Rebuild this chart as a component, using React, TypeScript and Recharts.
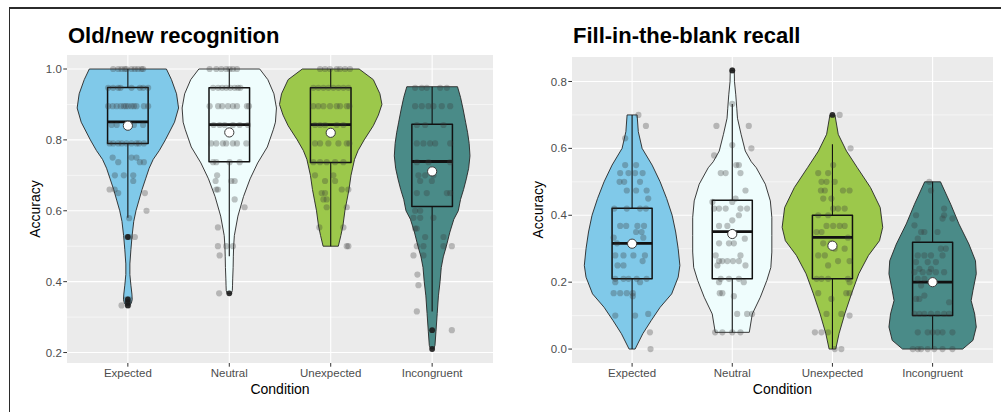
import React from 'react';
import { ComposedChart, Scatter, XAxis, YAxis, CartesianGrid } from 'recharts';

type Level = [number, number];
type Group = [number, number[]];

const conditions = ['Expected', 'Neutral', 'Unexpected', 'Incongruent'];
const fills = ['#80C9E9', '#EFFDFD', '#9CC84B', '#4A8B88'];

// violin outlines: [accuracy, half width in category units], top to bottom
const recogExpectedViolin: Level[] = [
  [1.0, 0.38], [0.97, 0.43], [0.93, 0.48], [0.89, 0.5], [0.85, 0.46], [0.8, 0.37], [0.77, 0.31],
  [0.745, 0.25], [0.72, 0.21], [0.69, 0.175], [0.66, 0.14], [0.63, 0.11], [0.6, 0.08], [0.57, 0.058],
  [0.53, 0.042], [0.49, 0.03], [0.45, 0.02], [0.42, 0.02], [0.39, 0.03], [0.365, 0.04], [0.35, 0.043],
  [0.34, 0.035], [0.333, 0.018],
];
const recogNeutralViolin: Level[] = [
  [1.0, 0.3], [0.97, 0.38], [0.93, 0.44], [0.89, 0.465], [0.85, 0.455], [0.83, 0.435], [0.78, 0.375],
  [0.735, 0.28], [0.69, 0.205], [0.64, 0.14], [0.585, 0.085], [0.53, 0.05], [0.5, 0.043], [0.47, 0.04],
  [0.44, 0.038], [0.41, 0.034], [0.39, 0.032], [0.375, 0.03], [0.367, 0.02],
];
const recogUnexpectedViolin: Level[] = [
  [1.0, 0.28], [0.97, 0.42], [0.93, 0.485], [0.9, 0.505], [0.87, 0.47], [0.84, 0.42], [0.8, 0.33],
  [0.77, 0.27], [0.745, 0.235], [0.7, 0.2], [0.66, 0.18], [0.63, 0.16], [0.6, 0.14], [0.557, 0.12],
  [0.53, 0.1], [0.5, 0.075],
];
const recogIncongruentViolin: Level[] = [
  [0.95, 0.25], [0.92, 0.28], [0.887, 0.305], [0.85, 0.33], [0.82, 0.35], [0.79, 0.365], [0.755, 0.373],
  [0.72, 0.36], [0.69, 0.337], [0.66, 0.31], [0.632, 0.28], [0.6, 0.258], [0.576, 0.214], [0.54, 0.175],
  [0.5, 0.14], [0.47, 0.11], [0.44, 0.09], [0.4, 0.078], [0.36, 0.062], [0.31, 0.05], [0.26, 0.038],
  [0.22, 0.028], [0.21, 0.015],
];

const recallExpectedViolin: Level[] = [
  [0.7, 0.05], [0.65, 0.062], [0.6, 0.1], [0.55, 0.2], [0.5, 0.28], [0.45, 0.345], [0.4, 0.4],
  [0.35, 0.435], [0.3, 0.46], [0.25, 0.477], [0.215, 0.46], [0.165, 0.395], [0.125, 0.28],
  [0.085, 0.19], [0.046, 0.107], [0.0, 0.03],
];
const recallNeutralViolin: Level[] = [
  [0.833, 0.02], [0.8, 0.022], [0.76, 0.035], [0.72, 0.045], [0.69, 0.052], [0.642, 0.088],
  [0.592, 0.13], [0.56, 0.19], [0.542, 0.24], [0.493, 0.33], [0.443, 0.38], [0.394, 0.395],
  [0.34, 0.395], [0.29, 0.395], [0.244, 0.385], [0.205, 0.345], [0.155, 0.28], [0.105, 0.2],
  [0.05, 0.17],
];
const recallUnexpectedViolin: Level[] = [
  [0.7, 0.025], [0.642, 0.058], [0.592, 0.14], [0.543, 0.247], [0.483, 0.38], [0.423, 0.477],
  [0.364, 0.502], [0.324, 0.47], [0.28, 0.36], [0.225, 0.263], [0.165, 0.19], [0.105, 0.123],
  [0.046, 0.066], [0.0, 0.033],
];
const recallIncongruentViolin: Level[] = [
  [0.5, 0.079], [0.433, 0.181], [0.374, 0.263], [0.314, 0.362], [0.264, 0.428], [0.225, 0.436],
  [0.175, 0.403], [0.145, 0.385], [0.105, 0.42], [0.066, 0.436], [0.026, 0.403], [0.0, 0.3],
];

// box plot stats, one value per condition
const recogQ1 = [0.79, 0.738, 0.736, 0.612];
const recogMedian = [0.851, 0.843, 0.843, 0.739];
const recogQ3 = [0.948, 0.947, 0.947, 0.844];
const recogLow = [0.58, 0.472, 0.5, 0.316];
const recogHigh = [1.0, 1.0, 1.0, 0.95];
const recogMean = [0.84, 0.821, 0.82, 0.711];
const recogOutliers = [[0.526, 0.35, 0.342, 0.333], [0.367], [], [0.263, 0.21]];

const recallQ1 = [0.21, 0.21, 0.21, 0.1];
const recallMedian = [0.316, 0.351, 0.334, 0.2];
const recallQ3 = [0.421, 0.445, 0.4, 0.319];
const recallLow = [0.0, 0.05, 0.0, 0.0];
const recallHigh = [0.7, 0.733, 0.612, 0.5];
const recallMean = [0.315, 0.344, 0.309, 0.2];
const recallOutliers = [[], [0.833], [0.7], []];

// jittered participants: [accuracy, horizontal offsets]
const recogExpectedPts: Group[] = [
  [1.0, [-0.145, -0.095, -0.062, -0.03, -0.013, 0.036, 0.069, 0.1, 0.135, 0.151]],
  [0.947, [-0.194, -0.145, -0.095, -0.072, 0.036, 0.118, 0.151, 0.2]],
  [0.895, [-0.194, -0.15, -0.11, -0.07, -0.04, -0.02, 0.003, 0.036, 0.06, 0.085, 0.158, 0.2]],
  [0.842, [-0.16, -0.11, 0.02, 0.06, 0.15]],
  [0.79, [-0.18, -0.145, -0.095, -0.06, -0.013, 0.036, 0.085, 0.11, 0.158]],
  [0.75, [-0.15, 0.036, 0.085]],
  [0.737, [-0.095, 0.118, 0.158]],
  [0.7, [-0.128, -0.04, 0.053]],
  [0.684, [0.053]],
  [0.66, [-0.18, -0.13]],
  [0.65, [-0.095, 0.168]],
  [0.6, [0.184]],
  [0.579, [0.013]],
  [0.526, [-0.007, 0.02, 0.069]],
  [0.35, [-0.013, 0.013]],
  [0.333, [-0.062, 0.003]],
];
const recogNeutralPts: Group[] = [
  [1.0, [-0.194, -0.128, -0.079, -0.03, 0.003, 0.036, 0.076]],
  [0.947, [-0.16, -0.11, -0.07, -0.03, 0.01, 0.053, 0.086, 0.109]],
  [0.895, [-0.194, -0.11, -0.07, -0.013, 0.036, 0.076, 0.174, 0.194]],
  [0.842, [-0.155, -0.095, -0.046, 0.036, 0.102, 0.184]],
  [0.79, [-0.178, -0.128, -0.063, -0.03, 0.036, 0.076, 0.168]],
  [0.737, [-0.16, -0.128, 0.003, 0.102]],
  [0.7, [-0.12]],
  [0.684, [-0.135, 0.02, 0.053]],
  [0.66, [-0.128, -0.112]],
  [0.632, [0.053]],
  [0.61, [0.151]],
  [0.553, [-0.112]],
  [0.5, [-0.112, -0.03, 0.036]],
  [0.474, [-0.095]],
  [0.367, [-0.1]],
];
const recogUnexpectedPts: Group[] = [
  [1.0, [-0.105, -0.056, -0.007, 0.059, 0.092, 0.141, 0.19]],
  [0.947, [-0.171, -0.122, -0.072, -0.023, 0.026, 0.076, 0.125, 0.174]],
  [0.895, [-0.171, -0.122, -0.072, -0.007, 0.059, 0.092, 0.158, 0.184]],
  [0.842, [-0.155, -0.105, -0.056, 0.059, 0.125]],
  [0.79, [-0.155, -0.105, -0.023, 0.076, 0.158, 0.184]],
  [0.737, [-0.171, -0.105, -0.04, 0.043, 0.125]],
  [0.7, [-0.155, 0.026]],
  [0.684, [-0.056, 0.043]],
  [0.66, [0.109, 0.174]],
  [0.65, [-0.089, -0.056]],
  [0.632, [-0.072, -0.04]],
  [0.61, [-0.04, 0.158]],
  [0.553, [-0.112, 0.125]],
  [0.5, [0.158, 0.174]],
];
const recogIncongruentPts: Group[] = [
  [0.947, [-0.168, -0.102, -0.053, 0.079, 0.145]],
  [0.895, [-0.168, -0.102, -0.036, 0.013, 0.095, 0.178]],
  [0.842, [-0.151, -0.069, 0.112]],
  [0.79, [-0.151, -0.086, -0.02, 0.03, 0.178]],
  [0.737, [-0.151, -0.036, 0.178]],
  [0.7, [-0.135, -0.069, 0.013]],
  [0.684, [-0.118, -0.003]],
  [0.65, [-0.151, -0.053, 0.145, 0.178]],
  [0.6, [-0.168, -0.118]],
  [0.58, [-0.184, -0.118, 0.013]],
  [0.55, [-0.168, -0.151]],
  [0.526, [-0.069, 0.112]],
  [0.5, [-0.151, -0.086, 0.112, 0.194]],
  [0.474, [-0.184, -0.086]],
  [0.42, [-0.145]],
  [0.39, [-0.135]],
  [0.316, [-0.151]],
  [0.263, [0.194]],
];

const recallExpectedPts: Group[] = [
  [0.7, [0.063]],
  [0.667, [0.138]],
  [0.63, [-0.069]],
  [0.55, [-0.069, 0.04]],
  [0.526, [-0.119, -0.036, 0.03, 0.105]],
  [0.5, [-0.125, -0.079, 0.079]],
  [0.474, [-0.053, 0.04, 0.145]],
  [0.45, [0.161]],
  [0.42, [-0.178, -0.053, 0.079, 0.138]],
  [0.368, [-0.119, -0.059, 0.053, 0.119]],
  [0.35, [0.04, 0.095]],
  [0.333, [-0.184, 0.112]],
  [0.316, [-0.151, -0.003]],
  [0.28, [-0.168, -0.086, 0.013, 0.128]],
  [0.263, [0.105]],
  [0.25, [-0.145, -0.086]],
  [0.21, [-0.168, -0.086, -0.036, 0.046, 0.145]],
  [0.2, [-0.168, 0.079]],
  [0.167, [-0.184, -0.119, -0.053, 0.007]],
  [0.158, [0.007]],
  [0.105, [0.161]],
  [0.1, [-0.168, 0.03]],
  [0.05, [0.178]],
  [0.0, [0.184]],
];
const recallNeutralPts: Group[] = [
  [0.833, [0.0]],
  [0.733, [0.0]],
  [0.667, [-0.158, 0.165]],
  [0.61, [0.0]],
  [0.6, [0.191]],
  [0.579, [-0.181]],
  [0.55, [0.04, 0.066]],
  [0.526, [-0.115, -0.066, 0.082]],
  [0.474, [0.132]],
  [0.45, [0.033]],
  [0.44, [-0.198, 0.0]],
  [0.42, [-0.181, -0.132, -0.066, 0.082, 0.148]],
  [0.4, [0.066]],
  [0.385, [0.0]],
  [0.368, [-0.132, -0.049]],
  [0.33, [0.125]],
  [0.316, [-0.132, -0.033, 0.016]],
  [0.28, [-0.165, 0.082]],
  [0.263, [-0.132, -0.099, -0.049, 0.007, 0.066]],
  [0.25, [-0.148, 0.132]],
  [0.21, [-0.115, -0.033, 0.066]],
  [0.2, [-0.132, 0.115]],
  [0.167, [-0.125, -0.099]],
  [0.158, [0.016]],
  [0.105, [0.049, 0.148, 0.198]],
  [0.05, [-0.171, -0.099, 0.0, 0.082]],
];
const recallUnexpectedPts: Group[] = [
  [0.7, [0.072]],
  [0.6, [0.181]],
  [0.55, [0.007]],
  [0.526, [-0.142, -0.043]],
  [0.5, [-0.109, -0.059, 0.023]],
  [0.474, [-0.115, -0.076, 0.105, 0.171]],
  [0.45, [-0.092, -0.01]],
  [0.42, [0.007, 0.056, 0.122]],
  [0.4, [-0.142, -0.043]],
  [0.368, [-0.059, 0.007, 0.072, 0.122]],
  [0.35, [-0.158, -0.109]],
  [0.333, [0.155]],
  [0.316, [-0.092, -0.016]],
  [0.3, [0.023, 0.122]],
  [0.28, [-0.142, -0.076]],
  [0.263, [0.056, 0.171]],
  [0.25, [-0.043]],
  [0.21, [-0.158, -0.109, -0.043, 0.155]],
  [0.2, [0.171]],
  [0.167, [-0.142, 0.138, 0.171]],
  [0.15, [-0.01]],
  [0.105, [-0.059, 0.089]],
  [0.1, [0.171]],
  [0.05, [-0.175, -0.109, -0.043]],
  [0.0, [0.023, 0.089]],
];
const recallIncongruentPts: Group[] = [
  [0.5, [-0.033]],
  [0.474, [-0.016]],
  [0.42, [0.115]],
  [0.4, [-0.165, 0.115]],
  [0.39, [0.099, 0.198]],
  [0.37, [-0.181]],
  [0.35, [-0.115, -0.082, 0.049]],
  [0.33, [-0.148]],
  [0.3, [0.082, 0.132]],
  [0.28, [-0.148, -0.082, -0.016, 0.099]],
  [0.26, [-0.165, -0.049, 0.033]],
  [0.24, [-0.132, -0.016]],
  [0.23, [-0.181, -0.099, -0.033, 0.033, 0.115]],
  [0.21, [-0.148, -0.082]],
  [0.19, [-0.115]],
  [0.16, [-0.082]],
  [0.15, [-0.165, -0.132]],
  [0.14, [0.165]],
  [0.105, [-0.181, -0.132, -0.082, -0.016, 0.049, 0.115, 0.165]],
  [0.05, [-0.148, -0.049, 0.0, 0.049, 0.099, 0.198]],
  [0.0, [-0.198, -0.148, -0.115, -0.049, 0.016, 0.099, 0.198]],
];

const recogTicks = [0.2, 0.4, 0.6, 0.8, 1.0];
const recogMinor = [0.3, 0.5, 0.7, 0.9];
const recallTicks = [0.0, 0.2, 0.4, 0.6, 0.8];
const recallMinor = [0.1, 0.3, 0.5, 0.7];

const BOX_HALF = 0.2;
const FONT = '"Liberation Sans", Arial, sans-serif';

const noShape = () => <g />;

const pathLine = (fill: string, stroke: string, width: number, closed: boolean) => (p: any) => {
  const pts: { x: number; y: number }[] = p.points || [];
  const d = pts.map((q, i) => `${i ? 'L' : 'M'}${q.x},${q.y}`).join(' ') + (closed ? ' Z' : '');
  return <path d={d} fill={fill} stroke={stroke} strokeWidth={width} strokeLinejoin="round" />;
};

function violinOutline(c: number, levels: Level[]) {
  const right = levels.map(([y, w]) => ({ x: c + w, y }));
  const left = [...levels].reverse().map(([y, w]) => ({ x: c - w, y }));
  return [...right, ...left];
}

function jitter(c: number, groups: Group[]) {
  return groups.flatMap(([y, dxs]) => dxs.map((dx) => ({ x: c + dx, y })));
}

interface PanelProps {
  title: string;
  left: number;
  top: number;
  yAxisWidth: number;
  rightMargin: number;
  labelOffset: number;
  violins: Level[][];
  q1: number[];
  median: number[];
  q3: number[];
  low: number[];
  high: number[];
  mean: number[];
  outliers: number[][];
  points: Group[][];
  yDomain: [number, number];
  yTicks: number[];
  yMinor: number[];
}

function Panel(props: PanelProps) {
  const { title, left, top, yAxisWidth, rightMargin, labelOffset, violins, q1, median, q3, low, high, mean, outliers, points, yDomain, yTicks, yMinor } = props;
  const W = 500;
  const H = 412;
  const xAxisH = H - 363;
  const plotW = W - yAxisWidth - rightMargin;
  const plotH = 363 - top;
  const cats = [1, 2, 3, 4];
  const allPts = cats.flatMap((c, i) => jitter(c, points[i]));
  const outPts = cats.flatMap((c, i) => outliers[i].map((y) => ({ x: c, y })));
  const meanPts = cats.map((c, i) => ({ x: c, y: mean[i] }));

  return (
    <div style={{ position: 'absolute', left, top: 0, width: W, height: H }}>
      <div style={{ position: 'absolute', left: yAxisWidth, top, width: plotW, height: plotH, background: '#EBEBEB' }} />
      <div style={{ position: 'absolute', left: yAxisWidth + 1, top: 25, fontFamily: FONT, fontWeight: 700, fontSize: 22, lineHeight: '22px', color: '#000', whiteSpace: 'nowrap' }}>
        {title}
      </div>
      <div style={{ position: 'absolute', left: 0, top: 0 }}>
        <ComposedChart width={W} height={H} margin={{ top, right: rightMargin, bottom: 0, left: 0 }} style={{ fontFamily: FONT }}>
          <CartesianGrid stroke="#FFFFFF" strokeWidth={0.55} vertical={false} horizontalValues={yMinor} />
          <CartesianGrid stroke="#FFFFFF" strokeWidth={1.1} horizontalValues={yTicks} verticalValues={cats} />
          <XAxis
            type="number"
            dataKey="x"
            domain={[0.4, 4.6]}
            allowDataOverflow
            ticks={cats}
            interval={0}
            tickFormatter={(v: number) => conditions[v - 1] ?? ''}
            height={xAxisH}
            axisLine={false}
            tickLine={{ stroke: '#333333' }}
            tickSize={3.7}
            tickMargin={2.5}
            tick={{ fill: '#4D4D4D', fontSize: 11.5 }}
            label={{ value: 'Condition', position: 'insideBottom', offset: 18, fill: '#000000', fontSize: 14 }}
          />
          <YAxis
            type="number"
            dataKey="y"
            domain={yDomain}
            allowDataOverflow
            ticks={yTicks}
            interval={0}
            tickFormatter={(v: number) => v.toFixed(1)}
            width={yAxisWidth}
            axisLine={false}
            tickLine={{ stroke: '#333333' }}
            tickSize={3.7}
            tickMargin={1.5}
            tick={{ fill: '#4D4D4D', fontSize: 11.5 }}
            label={{ value: 'Accuracy', angle: -90, position: 'insideLeft', offset: labelOffset, fill: '#000000', fontSize: 14, style: { textAnchor: 'middle' } }}
          />
          {violins.map((lv, i) => (
            <Scatter key={`v${i}`} data={violinOutline(i + 1, lv)} shape={noShape} line={pathLine(fills[i], '#262626', 0.9, true)} isAnimationActive={false} />
          ))}
          {cats.map((c, i) => (
            <Scatter key={`lw${i}`} data={[{ x: c, y: low[i] }, { x: c, y: q1[i] }]} shape={noShape} line={pathLine('none', '#111111', 1.1, false)} isAnimationActive={false} />
          ))}
          {cats.map((c, i) => (
            <Scatter key={`hw${i}`} data={[{ x: c, y: q3[i] }, { x: c, y: high[i] }]} shape={noShape} line={pathLine('none', '#111111', 1.1, false)} isAnimationActive={false} />
          ))}
          {cats.map((c, i) => (
            <Scatter
              key={`b${i}`}
              data={[{ x: c - BOX_HALF, y: q1[i] }, { x: c + BOX_HALF, y: q1[i] }, { x: c + BOX_HALF, y: q3[i] }, { x: c - BOX_HALF, y: q3[i] }]}
              shape={noShape}
              line={pathLine('none', '#111111', 1.5, true)}
              isAnimationActive={false}
            />
          ))}
          {cats.map((c, i) => (
            <Scatter key={`m${i}`} data={[{ x: c - BOX_HALF, y: median[i] }, { x: c + BOX_HALF, y: median[i] }]} shape={noShape} line={pathLine('none', '#111111', 2.8, false)} isAnimationActive={false} />
          ))}
          <Scatter
            data={allPts}
            isAnimationActive={false}
            shape={(p: any) => <circle cx={p.cx} cy={p.cy} r={3.1} fill="#383838" fillOpacity={0.3} />}
          />
          <Scatter
            data={outPts}
            isAnimationActive={false}
            shape={(p: any) => <circle cx={p.cx} cy={p.cy} r={2.9} fill="#1C1C1C" fillOpacity={0.9} />}
          />
          <Scatter
            data={meanPts}
            isAnimationActive={false}
            shape={(p: any) => <circle cx={p.cx} cy={p.cy} r={4.6} fill="#FFFFFF" stroke="#3A3A3A" strokeWidth={1} />}
          />
        </ComposedChart>
      </div>
    </div>
  );
}

export default function App() {
  return (
    <div style={{ position: 'absolute', left: 0, top: 0, width: 1001, height: 412, overflow: 'hidden', background: '#FFFFFF' }}>
      <div style={{ position: 'absolute', left: 9, top: 7, width: 992, height: 405, borderTop: '2px solid #2B2B2B', borderLeft: '1.5px solid #2B2B2B' }} />
      <Panel
        title="Old/new recognition"
        left={0}
        top={55}
        yAxisWidth={67}
        rightMargin={7}
        labelOffset={35}
        violins={[recogExpectedViolin, recogNeutralViolin, recogUnexpectedViolin, recogIncongruentViolin]}
        q1={recogQ1}
        median={recogMedian}
        q3={recogQ3}
        low={recogLow}
        high={recogHigh}
        mean={recogMean}
        outliers={recogOutliers}
        points={[recogExpectedPts, recogNeutralPts, recogUnexpectedPts, recogIncongruentPts]}
        yDomain={[0.1705, 1.0395]}
        yTicks={recogTicks}
        yMinor={recogMinor}
      />
      <Panel
        title="Fill-in-the-blank recall"
        left={500}
        top={56.5}
        yAxisWidth={72}
        rightMargin={7.3}
        labelOffset={38}
        violins={[recallExpectedViolin, recallNeutralViolin, recallUnexpectedViolin, recallIncongruentViolin]}
        q1={recallQ1}
        median={recallMedian}
        q3={recallQ3}
        low={recallLow}
        high={recallHigh}
        mean={recallMean}
        outliers={recallOutliers}
        points={[recallExpectedPts, recallNeutralPts, recallUnexpectedPts, recallIncongruentPts]}
        yDomain={[-0.04165, 0.87465]}
        yTicks={recallTicks}
        yMinor={recallMinor}
      />
    </div>
  );
}
